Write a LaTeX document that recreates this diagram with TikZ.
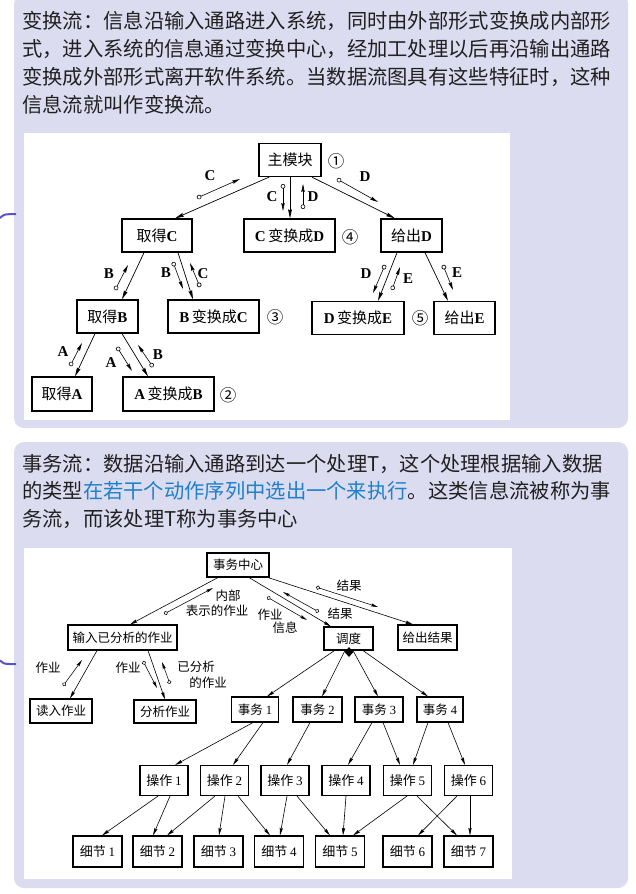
\documentclass[tikz,border=0pt]{standalone}
\usepackage{fontspec}
\usetikzlibrary{arrows.meta,shapes.geometric}
\newfontfamily\cjk{Noto Sans CJK SC}
\newfontfamily\lat{Liberation Serif}
\newcommand\lb[1]{{\lat\bfseries #1}}
\newcommand\latnum[1]{{\lat #1}}

\definecolor{cardbg}{RGB}{220,220,241}
\definecolor{bodytext}{RGB}{32,32,32}
\definecolor{hilite}{RGB}{30,128,200}
\definecolor{bracket}{RGB}{85,85,200}

\begin{document}
\begin{tikzpicture}[x=1pt,y=-1pt,
  para/.style={anchor=base west,inner sep=0pt,text=bodytext,font=\cjk\fontsize{20.3}{28}\selectfont},
  boxa/.style={draw,line width=1.3pt,minimum height=33pt,inner sep=0pt,fill=white,
    font=\cjk\fontsize{15}{18}\selectfont},
  boxb/.style={draw,line width=1.1pt,minimum height=24pt,inner sep=0pt,fill=white,
    font=\cjk\fontsize{12.5}{15}\selectfont},
  boxc/.style={boxb,minimum height=30pt,minimum width=48pt,font=\cjk\fontsize{13}{15}\selectfont},
  linka/.style={line width=0.7pt,-{Stealth[length=9pt,width=3.8pt,inset=1pt]}},
  linkb/.style={line width=0.6pt,-{Stealth[length=7.5pt,width=3.2pt,inset=1pt]}},
  couplea/.style={line width=0.6pt,{Circle[open,length=4.6pt,width=4.6pt]}-{Stealth[length=8pt,width=3.4pt,inset=1pt]}},
  coupleb/.style={line width=0.55pt,{Circle[open,length=4.2pt,width=4.2pt]}-{Stealth[length=7pt,width=3pt,inset=1pt]}},
  laba/.style={inner sep=0pt,font=\lat\bfseries\fontsize{15}{18}\selectfont},
  labb/.style={inner sep=0pt,font=\cjk\fontsize{12.5}{15}\selectfont},
  num/.style={inner sep=0pt,font=\cjk\fontsize{16.5}{18}\selectfont}]
\useasboundingbox (0,0) rectangle (636,894);

% ---------- cards ----------
\fill[cardbg,rounded corners=10pt] (14,-6) rectangle (628,428);
\fill[cardbg,rounded corners=10pt] (14,442) rectangle (628,888);
\draw[bracket,line width=2pt] (0,218) .. controls (4,214.5) .. (9,214.2) -- (16,214.2);
\draw[bracket,line width=2pt] (0,660.5) .. controls (4,663.7) .. (9,664) -- (16,664);

% ---------- card 1 text ----------
\node[para] (t1) at (22,28) {变换流：信息沿输入通路进入系统，同时由外部形式变换成内部形};
\node[para] (t2) at (22,56) {式，进入系统的信息通过变换中心，经加工处理以后再沿输出通路};
\node[para] (t3) at (22,84) {变换成外部形式离开软件系统。当数据流图具有这些特征时，这种};
\node[para] (t4) at (22,112) {信息流就叫作变换流。};

% ---------- transform-flow structure chart ----------
\fill[white] (24,133) rectangle (510,420);

\node[boxa,minimum width=62pt] (zmk) at (290,160) {主模块};
\node[num] (n1) at (336,161) {①};
\node[boxa,minimum width=70pt] (qdC) at (157,235.5) {取得\lb{C}};
\node[boxa,minimum width=91pt] (CtoD) at (289.5,235.5) {\lb{C}\,变换成\lb{D}};
\node[num] (n4) at (350,237) {④};
\node[boxa,minimum width=61pt] (gcD) at (411.5,235.5) {给出\lb{D}};
\node[boxa,minimum width=61pt] (qdB) at (107.5,316.5) {取得\lb{B}};
\node[boxa,minimum width=91pt] (BtoC) at (213.5,316.5) {\lb{B}\,变换成\lb{C}};
\node[num] (n3) at (275,317) {③};
\node[boxa,minimum width=92pt] (DtoE) at (358,318) {\lb{D}\,变换成\lb{E}};
\node[num] (n5) at (420,318) {⑤};
\node[boxa,minimum width=61pt] (gcE) at (464.5,318) {给出\lb{E}};
\node[boxa,minimum width=60pt,minimum height=34pt] (qdA) at (62,394) {取得\lb{A}};
\node[boxa,minimum width=91pt,minimum height=34pt] (AtoB) at (168.5,394) {\lb{A}\,变换成\lb{B}};
\node[num] (n2) at (228,395) {②};

\draw[linka] ([xshift=-21]zmk.south) -- ([xshift=18]qdC.north);
\draw[linka] (zmk.south) -- (zmk.south |- CtoD.north);
\draw[linka] ([xshift=22]zmk.south) -- ([xshift=-16.5]gcD.north);
\draw[linka] ([xshift=-13]qdC.south) -- ([xshift=14.5]qdB.north);
\draw[linka] ([xshift=21]qdC.south) -- ([xshift=-20.5]BtoC.north);
\draw[linka] ([xshift=-12.5]qdB.south) -- ([xshift=13]qdA.north);
\draw[linka] ([xshift=14.5]qdB.south) -- ([xshift=-20.5]AtoB.north);
\draw[linka] ([xshift=-14.5]gcD.south) -- ([xshift=20]DtoE.north);
\draw[linka] ([xshift=13.5]gcD.south) -- ([xshift=-16.5]gcE.north);

% data couples
\draw[couplea] (197,198) -- (240,179);  \node[laba] at (210,176) {C};
\draw[couplea] (283,184) -- (283,211);  \node[laba] at (272,197) {C};
\draw[couplea] (303,209) -- (303,184);  \node[laba] at (313,197) {D};
\draw[couplea] (337,179) -- (378,202);  \node[laba] at (365,177) {D};
\draw[couplea] (115,290) -- (128,265);  \node[laba] at (109,274) {B};
\draw[couplea] (173,262) -- (183,289);  \node[laba] at (166,273) {B};
\draw[couplea] (200,287) -- (190,263);  \node[laba] at (203,274) {C};
\draw[couplea] (70,366) -- (82,343);    \node[laba] at (63,352) {A};
\draw[couplea] (117,347) -- (132,371);  \node[laba] at (111,363) {A};
\draw[couplea] (153,367) -- (138,345);  \node[laba] at (158,355) {B};
\draw[couplea] (385,265) -- (373,293);  \node[laba] at (366,274) {D};
\draw[couplea] (392,290) -- (400,267);  \node[laba] at (408,279) {E};
\draw[couplea] (443,265) -- (453,290);  \node[laba] at (457,273) {E};

% ---------- card 2 text ----------
\node[para] (s1) at (22,471) {事务流：数据沿输入通路到达一个处理T，这个处理根据输入数据};
\node[para] (s2) at (22,498.5) {的类型{\color{hilite}在若干个动作序列中选出一个来执行}。这类信息流被称为事};
\node[para] (s3) at (22,526) {务流，而该处理T称为事务中心};

% ---------- transaction-flow structure chart ----------
\fill[white] (24,548) rectangle (512,879);

\node[boxb,minimum width=62pt] (swzx) at (238,565) {事务中心};
\node[boxb,minimum width=109pt,minimum height=25pt] (srfx) at (122.5,637.5) {输入已分析的作业};
\node[boxb,minimum width=49pt,minimum height=23pt] (dd) at (348.5,638.5) {调度};
\node[boxb,minimum width=59pt,minimum height=25pt] (gcjg) at (427.5,637.5) {给出结果};
\node[diamond,fill=black,inner sep=0pt,minimum width=9pt,minimum height=10pt] (dia) at (349,652) {};
\node[boxb,minimum width=62pt] (drzy) at (61,711) {读入作业};
\node[boxb,minimum width=62pt,minimum height=23pt] (fxzy) at (165,711.5) {分析作业};

\node[boxb,minimum width=47pt,minimum height=25pt] (sw1) at (255,709.5) {事务~\latnum{1}};
\node[boxb,minimum width=49pt,minimum height=25pt] (sw2) at (317.5,709.5) {事务~\latnum{2}};
\node[boxb,minimum width=48pt,minimum height=25pt] (sw3) at (379,709.5) {事务~\latnum{3}};
\node[boxb,minimum width=46pt,minimum height=25pt] (sw4) at (440,709.5) {事务~\latnum{4}};

\node[boxc] (cz1) at (164,780.5) {操作~\latnum{1}};
\node[boxc] (cz2) at (224.5,780.5) {操作~\latnum{2}};
\node[boxc] (cz3) at (285,780.5) {操作~\latnum{3}};
\node[boxc] (cz4) at (346,780.5) {操作~\latnum{4}};
\node[boxc] (cz5) at (407.5,780.5) {操作~\latnum{5}};
\node[boxc] (cz6) at (468.5,780.5) {操作~\latnum{6}};

\node[boxc,minimum width=49pt,minimum height=31pt] (xj1) at (97.5,851.5) {细节~\latnum{1}};
\node[boxc,minimum width=49pt,minimum height=31pt] (xj2) at (157.5,851.5) {细节~\latnum{2}};
\node[boxc,minimum width=49pt,minimum height=31pt] (xj3) at (218.5,851.5) {细节~\latnum{3}};
\node[boxc,minimum width=49pt,minimum height=31pt] (xj4) at (279,851.5) {细节~\latnum{4}};
\node[boxc,minimum width=49pt,minimum height=31pt] (xj5) at (340,851.5) {细节~\latnum{5}};
\node[boxc,minimum width=49pt,minimum height=31pt] (xj6) at (407.5,851.5) {细节~\latnum{6}};
\node[boxc,minimum width=49pt,minimum height=31pt] (xj7) at (468.5,851.5) {细节~\latnum{7}};

% calls from the transaction centre
\draw[linkb] ([xshift=-20]swzx.south) -- ([xshift=7.5]srfx.north);
\draw[linkb] ([xshift=11]swzx.south) -- ([xshift=-17.5]dd.north);
\draw[linkb] ([xshift=30]swzx.south) -- ([xshift=-14.5]gcjg.north);
\draw[linkb] ([xshift=-25.5]srfx.south) -- ([xshift=9]drzy.north);
\draw[linkb] ([xshift=25.5]srfx.south) -- (fxzy.north);

% dispatch to the transactions
\draw[linkb] ([xshift=-14]dd.south) -- ([xshift=12]sw1.north);
\draw[linkb] ([xshift=-3.5]dd.south) -- ([xshift=4.5]sw2.north);
\draw[linkb] ([xshift=4.5]dd.south) -- ([xshift=-1]sw3.north);
\draw[linkb] ([xshift=14.5]dd.south) -- ([xshift=-12]sw4.north);

% transactions to operations
\draw[linkb] ([xshift=-2]sw1.south) -- ([xshift=11]cz1.north);
\draw[linkb] ([xshift=8]sw1.south) -- ([xshift=8.5]cz2.north);
\draw[linkb] ([xshift=-7.5]sw2.south) -- ([xshift=2]cz3.north);
\draw[linkb] ([xshift=-7]sw3.south) -- ([xshift=2]cz4.north);
\draw[linkb] ([xshift=4]sw3.south) -- ([xshift=-7.5]cz5.north);
\draw[linkb] ([xshift=-12]sw4.south) -- ([xshift=5.5]cz5.north);
\draw[linkb] ([xshift=8]sw4.south) -- ([xshift=-3.5]cz6.north);

% operations to details
\draw[linkb] ([xshift=-6]cz1.south) -- ([xshift=4.5]xj1.north);
\draw[linkb] ([xshift=6]cz1.south) -- ([xshift=-4.5]xj2.north);
\draw[linkb] ([xshift=-9.5]cz2.south) -- ([xshift=9.5]xj2.north);
\draw[linkb] ([xshift=0.5]cz2.south) -- ([xshift=0.5]xj3.north);
\draw[linkb] ([xshift=13.5]cz2.south) -- ([xshift=-9]xj4.north);
\draw[linkb] ([xshift=2]cz3.south) -- ([xshift=1]xj4.north);
\draw[linkb] ([xshift=12]cz3.south) -- ([xshift=-10]xj5.north);
\draw[linkb] (cz4.south) -- ([xshift=3]xj5.north);
\draw[linkb] ([xshift=-0.5]cz5.south) -- ([xshift=13]xj5.north);
\draw[linkb] ([xshift=9.5]cz5.south) -- ([xshift=-11.5]xj7.north);
\draw[linkb] ([xshift=-11.5]cz6.south) -- ([xshift=10.5]xj6.north);
\draw[linkb] ([xshift=1.5]cz6.south) -- ([xshift=1.5]xj7.north);

% data couples and their labels
\draw[coupleb] (164,614) -- (213,588);
\node[labb] at (228,596) {内部};
\node[labb] at (217,611) {表示的作业};
\draw[coupleb] (267,597) -- (307,620);
\node[labb] at (270,615) {作业};
\node[labb] at (285,628) {信息};
\draw[coupleb] (319,612) -- (283,592);
\node[labb] at (340,614) {结果};
\draw[coupleb] (316,587) -- (378,607);
\node[labb] at (349,586) {结果};
\draw[coupleb] (63,686) -- (82,660);
\node[labb] at (48,668) {作业};
\draw[coupleb] (143,661) -- (157,688);
\node[labb] at (128,668) {作业};
\draw[coupleb] (170,684) -- (162,662);
\node[labb] at (196,667) {已分析};
\node[labb] at (208,683) {的作业};
\end{tikzpicture}
\end{document}
